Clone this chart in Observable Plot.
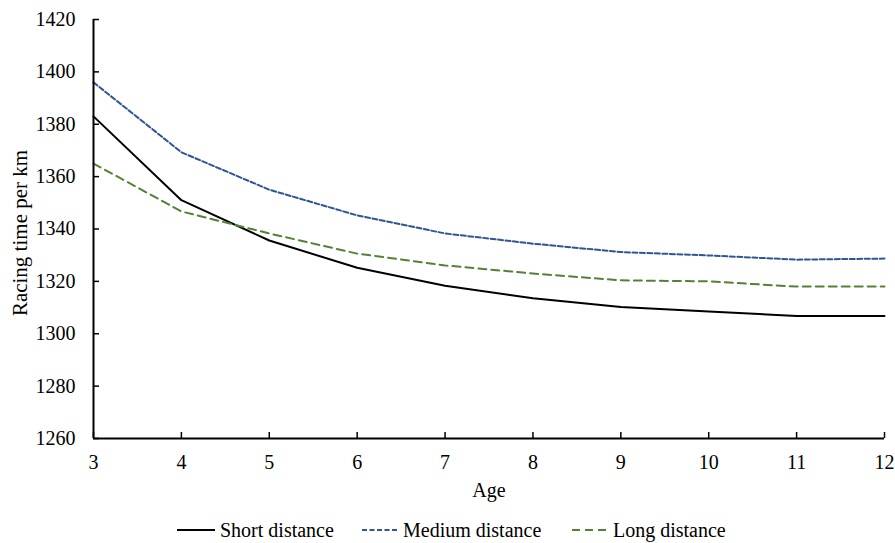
<!DOCTYPE html>
<html>
<head>
<meta charset="utf-8">
<script src="https://cdn.jsdelivr.net/npm/d3@7"></script>
<script src="https://cdn.jsdelivr.net/npm/@observablehq/plot@0.6"></script>
<style>
  body { margin: 0; background: #fff; font-family: "Liberation Serif", "Times New Roman", serif; }
  #wrap { position: relative; width: 895px; height: 543px; overflow: hidden; }
  #legend { position: absolute; left: 0; top: 518px; width: 895px; height: 24px; font-size: 20px; color: #000; }
  .item { position: absolute; top: 0; display: flex; align-items: center; height: 24px; white-space: nowrap; }
  .item span { line-height: 20px; }
  .item svg { margin-right: 5px; }
</style>
</head>
<body>
<div id="wrap">
  <div id="chart"></div>
  <div id="legend"></div>
</div>
<script>
const ages = [3, 4, 5, 6, 7, 8, 9, 10, 11, 12];
const shortDistance  = [1383, 1351, 1335.6, 1325.2, 1318.3, 1313.6, 1310.2, 1308.5, 1306.8, 1306.8];
const mediumDistance = [1396, 1369.3, 1355, 1345.2, 1338.3, 1334.4, 1331.2, 1329.9, 1328.3, 1328.7];
const longDistance   = [1365, 1346.7, 1338.3, 1330.6, 1326.1, 1323, 1320.4, 1320, 1318, 1318];
const seriesNames = ["Short distance", "Medium distance", "Long distance"];
const yTicks = [1260, 1280, 1300, 1320, 1340, 1360, 1380, 1400, 1420];

const styles = {
  "Short distance":  {stroke: "#000000", dash: null},
  "Medium distance": {stroke: "#2F5597", dash: "5,2.5"},
  "Long distance":   {stroke: "#548235", dash: "8,5"}
};

const table = [];
[shortDistance, mediumDistance, longDistance].forEach((vals, i) => {
  vals.forEach((v, j) => table.push({series: seriesNames[i], age: ages[j], value: v}));
});

const lineMarks = seriesNames.map(name => Plot.line(table.filter(d => d.series === name), {
  x: "age", y: "value",
  stroke: styles[name].stroke,
  strokeWidth: 2,
  strokeDasharray: styles[name].dash
}));

const chart = Plot.plot({
  width: 895,
  height: 510,
  marginTop: 19,
  marginLeft: 93,
  marginRight: 11,
  marginBottom: 72,
  style: {fontFamily: "'Liberation Serif', 'Times New Roman', serif", fontSize: "20px", color: "#000", background: "#fff", overflow: "visible"},
  x: {domain: [3, 12]},
  y: {domain: [1260, 1420]},
  marks: [
    Plot.axisY({ticks: yTicks, tickSize: -6, tickPadding: 24, label: null, tickFormat: d => String(d), strokeWidth: 1.5, fontSize: 20}),
    Plot.axisX({ticks: ages, tickSize: -6, tickPadding: 22, label: null, tickFormat: d => String(d), strokeWidth: 1.5, fontSize: 20}),
    ...lineMarks,
    Plot.ruleX([3], {stroke: "#000", strokeWidth: 2}),
    Plot.ruleY([1260], {stroke: "#000", strokeWidth: 2}),
    Plot.text(["Age"], {frameAnchor: "bottom", lineAnchor: "middle", textAnchor: "middle", dy: 52, fontSize: 20, text: d => d}),
    Plot.text(["Racing time per km"], {frameAnchor: "left", lineAnchor: "middle", textAnchor: "middle", dx: -73, dy: 4, rotate: -90, fontSize: 21, text: d => d})
  ]
});
document.getElementById("chart").appendChild(chart);

const legendPos = [{x: 177, w: 38}, {x: 362, w: 36}, {x: 572, w: 36}];
const legend = document.getElementById("legend");
seriesNames.forEach((name, i) => {
  const div = document.createElement("div");
  div.className = "item";
  div.style.left = legendPos[i].x + "px";
  const s = styles[name];
  div.innerHTML = `<svg width="${legendPos[i].w}" height="6"><line x1="0" x2="${legendPos[i].w}" y1="3" y2="3" stroke="${s.stroke}" stroke-width="2" ${s.dash ? `stroke-dasharray="${s.dash}"` : ""}/></svg><span>${name}</span>`;
  legend.appendChild(div);
});
</script>
</body>
</html>
